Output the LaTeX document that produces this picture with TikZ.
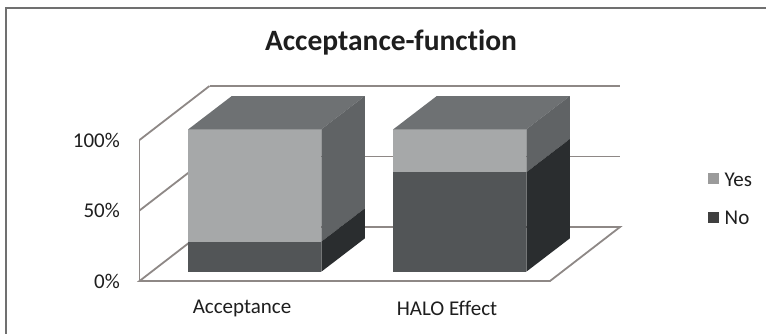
\documentclass[tikz,border=0pt]{standalone}
\usepackage{fontspec}
\setmainfont{Carlito}[Ligatures=NoCommon]
\definecolor{yesfront}{HTML}{A6A8A9}
\definecolor{nofront}{HTML}{525557}
\definecolor{topface}{HTML}{6E7173}
\definecolor{yesside}{HTML}{606365}
\definecolor{noside}{HTML}{2A2D2F}
\definecolor{gridc}{HTML}{8E8886}
\definecolor{framec}{HTML}{707070}
\definecolor{legyes}{HTML}{9B9B9B}
\definecolor{legno}{HTML}{404040}
\definecolor{txt}{HTML}{1E1E1E}
% one stacked 3-D bar: #1 = left edge of the front face, #2 = height of the No/Yes split
\newcommand\chartbar[2]{%
  \fill[yesfront] (#1,129.3) rectangle ({#1+133},#2);
  \fill[nofront] (#1,#2) rectangle ({#1+133},271.7);
  \fill[topface] (#1,129.3) -- ({#1+133},129.3) -- ({#1+176.5},96) -- ({#1+43.5},96) -- cycle;
  \fill[yesside] ({#1+133},129.3) -- ({#1+176.5},96) -- ({#1+176.5},{#2-33.3}) -- ({#1+133},#2) -- cycle;
  \fill[noside] ({#1+133},#2) -- ({#1+176.5},{#2-33.3}) -- ({#1+176.5},238.4) -- ({#1+133},271.7) -- cycle;
}
\begin{document}
\begin{tikzpicture}[x=1pt,y=-1pt,
  grid/.style={draw=gridc,line width=1.8pt},
  lbl/.style={text=txt,font=\fontsize{21}{25}\selectfont,inner sep=0pt},
  legbox/.style={minimum size=11pt,inner sep=0pt}]
\useasboundingbox (0,0) rectangle (766,333);
\fill[white] (0,0) rectangle (766,333);
% chart frame (only left and top edges fall inside the page)
\draw[framec,line width=1.8pt] (6,334) -- (6,8) -- (767,8);

% title
\node[text=txt,font=\bfseries\fontsize{29.5}{33}\selectfont,inner sep=0pt] (title) at (391,42) {Acceptance-function};

% floor
\draw[grid] (139.5,281) -- (550,281) -- (620,227) -- (209.5,227) -- cycle;
% side wall
\draw[grid] (139.5,281) -- (139.5,140);
\draw[grid] (139.5,140) -- (209.5,86);
\draw[grid] (139.5,210.5) -- (209.5,156.5);
% back wall gridlines
\draw[grid] (209.5,86) -- (620,86);
\draw[grid] (209.5,156.5) -- (620,156.5);

% bars
\chartbar{188.3}{241.7}
\chartbar{393.3}{172.3}

% value axis
\node[lbl,anchor=east] (v100) at (120,140.5) {100\%};
\node[lbl,anchor=east] (v50) at (120,210.5) {50\%};
\node[lbl,anchor=east] (v0) at (120,281) {0\%};

% category axis
\node[lbl] (cat1) at (242,308) {Acceptance};
\node[lbl] (cat2) at (447,308) {HALO Effect};

% legend
\node[legbox,fill=legyes] (kyes) at (713.8,178.8) {};
\node[legbox,fill=legno] (kno) at (713.8,217.2) {};
\node[lbl,anchor=west] (tyes) at (724.5,179.5) {Yes};
\node[lbl,anchor=west] (tno) at (724.5,217.5) {No};
\end{tikzpicture}
\end{document}
